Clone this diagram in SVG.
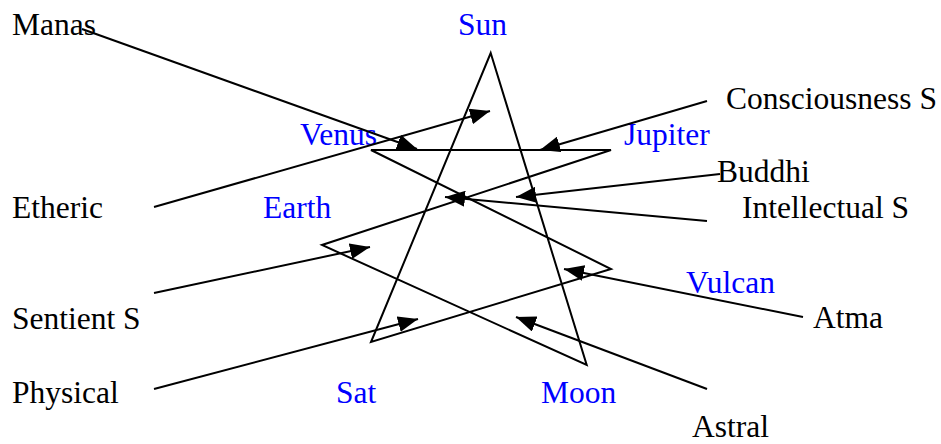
<svg xmlns="http://www.w3.org/2000/svg" width="941" height="444" viewBox="0 0 941 444">
<style>
text{font-family:"Liberation Serif","Times New Roman",serif;font-size:31.5px;fill:#000}
.p{fill:#0000ff}
.ln{stroke:#000;stroke-width:2;fill:none}
.ar{stroke:#000;stroke-width:2;fill:none;marker-end:url(#ah)}
</style>
<defs>
<marker id="ah" markerUnits="userSpaceOnUse" markerWidth="22" markerHeight="16" refX="20" refY="8" orient="auto">
<path d="M0,0 L20,8 L0,16 z" fill="#000"/>
</marker>
</defs>
<rect width="941" height="444" fill="#fff"/>
<g id="star">
<polygon class="ln" points="490.7,53 586.7,365 322,245 611,150 371,150 611,269 371,342"/>
</g>
<g id="n-sun"><text class="p" x="458" y="35">Sun</text></g>
<g id="n-venus"><text class="p" x="300" y="145">Venus</text></g>
<g id="n-jupiter"><text class="p" x="624" y="145">Jupiter</text></g>
<g id="n-earth"><text class="p" x="263" y="218">Earth</text></g>
<g id="n-vulcan"><text class="p" x="686" y="293">Vulcan</text></g>
<g id="n-sat"><text class="p" x="336" y="403">Sat</text></g>
<g id="n-moon"><text class="p" x="541" y="403">Moon</text></g>
<g id="n-manas"><text x="12" y="35">Manas</text></g>
<g id="n-consciousness"><text x="726" y="109">Consciousness S</text></g>
<g id="n-buddhi"><text x="717" y="182">Buddhi</text></g>
<g id="n-etheric"><text x="12" y="218">Etheric</text></g>
<g id="n-intellectual"><text x="742" y="218">Intellectual S</text></g>
<g id="n-sentient"><text x="12" y="329">Sentient S</text></g>
<g id="n-atma"><text x="813" y="328">Atma</text></g>
<g id="n-physical"><text x="12" y="403">Physical</text></g>
<g id="n-astral"><text x="692" y="437">Astral</text></g>
<g id="connectors">
<line class="ar" x1="82" y1="29" x2="417" y2="149"/>
<line class="ar" x1="154" y1="207" x2="490" y2="111"/>
<line class="ar" x1="707" y1="101" x2="540" y2="150"/>
<line class="ar" x1="720" y1="174" x2="516" y2="197"/>
<line class="ar" x1="707" y1="221" x2="445" y2="197"/>
<line class="ar" x1="154" y1="293" x2="370" y2="247"/>
<line class="ar" x1="154" y1="389" x2="418" y2="319"/>
<line class="ar" x1="803" y1="317" x2="564" y2="269"/>
<line class="ar" x1="707" y1="389" x2="516" y2="317"/>
</g>
</svg>
